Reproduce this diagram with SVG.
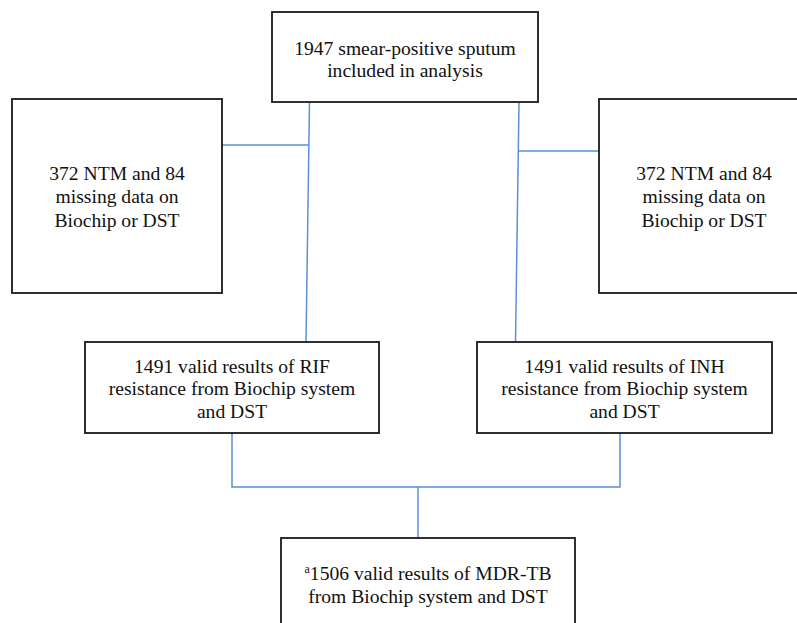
<svg xmlns="http://www.w3.org/2000/svg" width="797" height="623" viewBox="0 0 797 623">
  <style>
    .box { fill: #ffffff; stroke: #1a1a1a; stroke-width: 1.8; }
    .lbl { font-family: "Liberation Serif", "Times New Roman", serif; font-size: 19.6px; fill: #111111; text-anchor: middle; }
    .link { fill: none; stroke: #5b8fd6; stroke-width: 1.5; }
  </style>
  <rect width="797" height="623" fill="#ffffff"/>

  <!-- connectors -->
  <g id="connectors">
    <path class="link" d="M309.5,102 L306,342"/>
    <path class="link" d="M222,145 L308.5,145"/>
    <path class="link" d="M519,102 L515.5,342"/>
    <path class="link" d="M518,151 L599,151"/>
    <path class="link" d="M232,433 L232,487 L620,487 L620,433"/>
    <path class="link" d="M418,487 L418,538"/>
  </g>

  <g id="node-total">
    <rect class="box" x="272" y="12" width="266" height="90"/>
    <text class="lbl" x="405" y="55">1947 smear-positive sputum</text>
    <text class="lbl" x="405" y="77">included in analysis</text>
  </g>

  <g id="node-excluded-left">
    <rect class="box" x="12" y="99" width="210" height="194"/>
    <text class="lbl" x="117" y="180">372 NTM and 84</text>
    <text class="lbl" x="117" y="203">missing data on</text>
    <text class="lbl" x="117" y="227">Biochip or DST</text>
  </g>

  <g id="node-excluded-right">
    <rect class="box" x="599" y="99" width="210" height="194"/>
    <text class="lbl" x="704" y="180">372 NTM and 84</text>
    <text class="lbl" x="704" y="203">missing data on</text>
    <text class="lbl" x="704" y="227">Biochip or DST</text>
  </g>

  <g id="node-rif">
    <rect class="box" x="85" y="342" width="294" height="91"/>
    <text class="lbl" x="232" y="373">1491 valid results of RIF</text>
    <text class="lbl" x="232" y="395">resistance from Biochip system</text>
    <text class="lbl" x="232" y="418">and DST</text>
  </g>

  <g id="node-inh">
    <rect class="box" x="477" y="342" width="295" height="91"/>
    <text class="lbl" x="624.5" y="373">1491 valid results of INH</text>
    <text class="lbl" x="624.5" y="395">resistance from Biochip system</text>
    <text class="lbl" x="624.5" y="418">and DST</text>
  </g>

  <g id="node-mdr">
    <rect class="box" x="281" y="538" width="294" height="100"/>
    <text class="lbl" x="428" y="580"><tspan font-size="12" dy="-7">a</tspan><tspan dy="7">1506 valid results of MDR-TB</tspan></text>
    <text class="lbl" x="428" y="603">from Biochip system and DST</text>
  </g>
</svg>
